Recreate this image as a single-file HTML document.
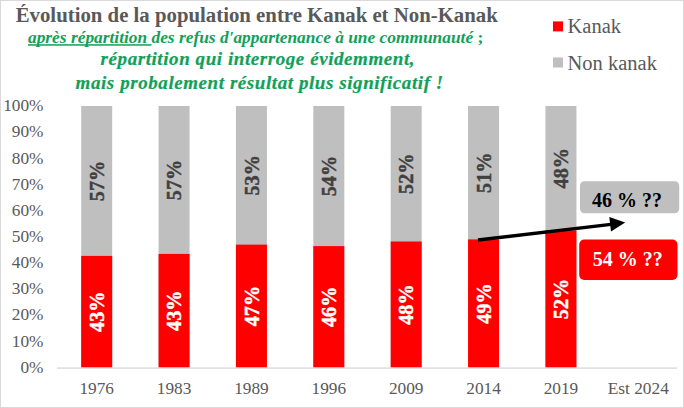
<!DOCTYPE html>
<html><head><meta charset="utf-8"><style>
html,body{margin:0;padding:0;background:#fff;}
#c{position:relative;width:684px;height:408px;overflow:hidden;background:#fff;}
#bd{position:absolute;left:0;top:0;width:682px;height:406px;border:1px solid #D9D9D9;}
svg{position:absolute;left:0;top:0;}
.ax{font-family:"Liberation Serif",serif;font-size:17.3px;fill:#595959;}
.dl{font-family:"Liberation Serif",serif;font-size:20.2px;font-weight:bold;stroke-width:0.45px;}
.t{position:absolute;white-space:nowrap;font-family:"Liberation Serif",serif;line-height:1;}
</style></head><body><div id="c"><div id="bd"></div>
<svg width="684" height="408" viewBox="0 0 684 408">
<rect x="81.19" y="106.00" width="31" height="261.60" fill="#BFBFBF"/>
<rect x="81.19" y="255.90" width="31" height="111.70" fill="#FF0000"/>
<text transform="translate(103.89,311.75) rotate(-90)" text-anchor="middle" class="dl" fill="#FFFFFF" stroke="#FFFFFF">43%</text>
<text transform="translate(103.89,180.95) rotate(-90)" text-anchor="middle" class="dl" fill="#404040" stroke="#404040">57%</text>
<text x="96.69" y="394" text-anchor="middle" class="ax">1976</text>
<rect x="158.56" y="106.00" width="31" height="261.60" fill="#BFBFBF"/>
<rect x="158.56" y="253.93" width="31" height="113.67" fill="#FF0000"/>
<text transform="translate(181.26,310.77) rotate(-90)" text-anchor="middle" class="dl" fill="#FFFFFF" stroke="#FFFFFF">43%</text>
<text transform="translate(181.26,179.97) rotate(-90)" text-anchor="middle" class="dl" fill="#404040" stroke="#404040">57%</text>
<text x="174.06" y="394" text-anchor="middle" class="ax">1983</text>
<rect x="235.94" y="106.00" width="31" height="261.60" fill="#BFBFBF"/>
<rect x="235.94" y="244.65" width="31" height="122.95" fill="#FF0000"/>
<text transform="translate(258.64,306.12) rotate(-90)" text-anchor="middle" class="dl" fill="#FFFFFF" stroke="#FFFFFF">47%</text>
<text transform="translate(258.64,175.32) rotate(-90)" text-anchor="middle" class="dl" fill="#404040" stroke="#404040">53%</text>
<text x="251.44" y="394" text-anchor="middle" class="ax">1989</text>
<rect x="313.31" y="106.00" width="31" height="261.60" fill="#BFBFBF"/>
<rect x="313.31" y="246.09" width="31" height="121.51" fill="#FF0000"/>
<text transform="translate(336.01,306.84) rotate(-90)" text-anchor="middle" class="dl" fill="#FFFFFF" stroke="#FFFFFF">46%</text>
<text transform="translate(336.01,176.04) rotate(-90)" text-anchor="middle" class="dl" fill="#404040" stroke="#404040">54%</text>
<text x="328.81" y="394" text-anchor="middle" class="ax">1996</text>
<rect x="390.69" y="106.00" width="31" height="261.60" fill="#BFBFBF"/>
<rect x="390.69" y="241.51" width="31" height="126.09" fill="#FF0000"/>
<text transform="translate(413.39,304.55) rotate(-90)" text-anchor="middle" class="dl" fill="#FFFFFF" stroke="#FFFFFF">48%</text>
<text transform="translate(413.39,173.75) rotate(-90)" text-anchor="middle" class="dl" fill="#404040" stroke="#404040">52%</text>
<text x="406.19" y="394" text-anchor="middle" class="ax">2009</text>
<rect x="468.06" y="106.00" width="31" height="261.60" fill="#BFBFBF"/>
<rect x="468.06" y="239.42" width="31" height="128.18" fill="#FF0000"/>
<text transform="translate(490.76,303.51) rotate(-90)" text-anchor="middle" class="dl" fill="#FFFFFF" stroke="#FFFFFF">49%</text>
<text transform="translate(490.76,172.71) rotate(-90)" text-anchor="middle" class="dl" fill="#404040" stroke="#404040">51%</text>
<text x="483.56" y="394" text-anchor="middle" class="ax">2014</text>
<rect x="545.44" y="106.00" width="31" height="261.60" fill="#BFBFBF"/>
<rect x="545.44" y="230.39" width="31" height="137.21" fill="#FF0000"/>
<text transform="translate(568.14,299.00) rotate(-90)" text-anchor="middle" class="dl" fill="#FFFFFF" stroke="#FFFFFF">52%</text>
<text transform="translate(568.14,168.20) rotate(-90)" text-anchor="middle" class="dl" fill="#404040" stroke="#404040">48%</text>
<text x="560.94" y="394" text-anchor="middle" class="ax">2019</text>
<text x="638.31" y="394" text-anchor="middle" class="ax">Est 2024</text>
<rect x="57" y="367.4" width="620" height="1.4" fill="#D9D9D9"/>
<text x="43.5" y="372.80" text-anchor="end" class="ax">0%</text>
<text x="43.5" y="346.64" text-anchor="end" class="ax">10%</text>
<text x="43.5" y="320.48" text-anchor="end" class="ax">20%</text>
<text x="43.5" y="294.32" text-anchor="end" class="ax">30%</text>
<text x="43.5" y="268.16" text-anchor="end" class="ax">40%</text>
<text x="43.5" y="242.00" text-anchor="end" class="ax">50%</text>
<text x="43.5" y="215.84" text-anchor="end" class="ax">60%</text>
<text x="43.5" y="189.68" text-anchor="end" class="ax">70%</text>
<text x="43.5" y="163.52" text-anchor="end" class="ax">80%</text>
<text x="43.5" y="137.36" text-anchor="end" class="ax">90%</text>
<text x="43.5" y="111.20" text-anchor="end" class="ax">100%</text>
<rect x="553" y="21.4" width="10" height="10" fill="#FF0000"/>
<rect x="553" y="57.5" width="10" height="10" fill="#BFBFBF"/>
<text x="567.5" y="32.8" style="font-family:'Liberation Serif',serif;font-size:20.5px;fill:#595959">Kanak</text>
<text x="567.5" y="69.5" style="font-family:'Liberation Serif',serif;font-size:20.5px;fill:#595959">Non kanak</text>
<rect x="580" y="181.3" width="99.2" height="31.9" rx="4.5" fill="#BFBFBF"/>
<text x="627" y="206.7" text-anchor="middle" style="font-family:'Liberation Serif',serif;font-size:20px;font-weight:bold;fill:#000">46 % ??</text>
<rect x="579.2" y="239.5" width="98.3" height="40.5" rx="5" fill="#FF0000"/>
<text x="627.7" y="265.8" text-anchor="middle" style="font-family:'Liberation Serif',serif;font-size:20px;font-weight:bold;fill:#fff">54 % ??</text>
<line x1="478" y1="240" x2="611" y2="224.4" stroke="#000" stroke-width="3.3"/>
<polygon points="625.2,222.6 609.3,217 611,231.6" fill="#000"/>
<text x="15.7" y="22.3" style="font-family:'Liberation Serif',serif;font-size:20.8px;font-weight:bold;fill:#595959">Évolution de la population entre Kanak et Non-Kanak</text>
<rect x="28" y="44.2" width="123.5" height="1.5" fill="#12A058"/>
<text x="28" y="42.9" style="font-family:'Liberation Serif',serif;font-size:17.38px;font-style:italic;font-weight:bold;fill:#12A058">après répartition des refus d'appartenance à une communauté<tspan font-style="normal"> ;</tspan></text>
<text x="100.6" y="65.3" style="letter-spacing:0.57px;font-family:'Liberation Serif',serif;font-size:19px;font-style:italic;font-weight:bold;fill:#12A058;stroke:#12A058;stroke-width:0.2px">répartition qui interroge évidemment,</text>
<text x="75.6" y="88.6" style="letter-spacing:0.57px;font-family:'Liberation Serif',serif;font-size:19px;font-style:italic;font-weight:bold;fill:#12A058;stroke:#12A058;stroke-width:0.2px">mais probalement résultat plus significatif !</text>
</svg>
</div></body></html>
